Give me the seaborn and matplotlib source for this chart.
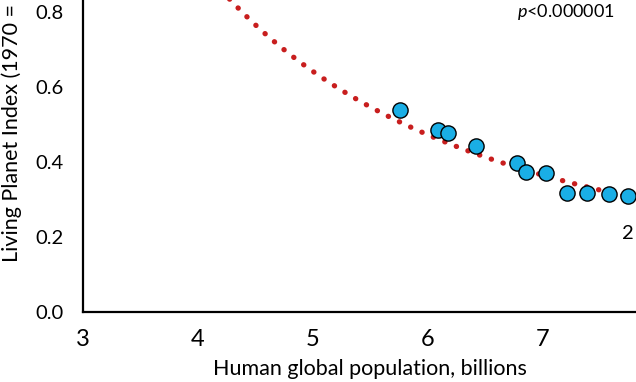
import numpy as np
import pandas as pd
import matplotlib
matplotlib.use("Agg")
import matplotlib.pyplot as plt
import seaborn as sns

# population (billions) vs Living Planet Index
population = [5.76, 6.09, 6.17, 6.42, 6.77, 6.85, 7.03, 7.21, 7.38, 7.57, 7.74]
lpi = [0.539, 0.485, 0.477, 0.443, 0.397, 0.373, 0.371, 0.317, 0.317, 0.315, 0.309]

# power trend y = a * x^b, estimated from the dotted curve
trend_a = 9.55
trend_b = -1.678
trend_start, trend_end = 3.7, 7.76

x_ticks = [3, 4, 5, 6, 7]
y_ticks = [0.0, 0.2, 0.4, 0.6, 0.8, 1.0]

sns.set_theme(style="white")
plt.rcParams['font.family'] = ['Lato', 'DejaVu Sans']
plt.rcParams['mathtext.fontset'] = 'custom'
plt.rcParams['mathtext.it'] = 'Lato:italic'
plt.rcParams['mathtext.rm'] = 'Lato'

df = pd.DataFrame({'pop': population, 'lpi': lpi})
tx = np.linspace(trend_start, trend_end, 200)
trend = pd.DataFrame({'pop': tx, 'lpi': trend_a * tx ** trend_b})

fig = plt.figure(figsize=(6.36, 3.82), dpi=100)
# the chart is cropped: axes run past the top and right edges
ax = fig.add_axes([83 / 636, 70 / 382, 575 / 636, 375 / 382])

sns.lineplot(data=trend, x='pop', y='lpi', ax=ax, color='#C81E1E',
             linestyle=(0, (0.05, 2.3)), linewidth=3.8,
             dash_capstyle='round', zorder=2)
sns.scatterplot(data=df, x='pop', y='lpi', ax=ax, s=120, color='#1AAEE5',
                edgecolor='black', linewidth=1.0, zorder=3)

ax.set_xlim(3, 8)
ax.set_ylim(0, 1.0)
ax.set_xticks(x_ticks)
ax.set_yticks(y_ticks)
ax.set_yticklabels([f"{v:.1f}" for v in y_ticks])
ax.tick_params(axis='both', length=0, colors='black')
ax.tick_params(axis='y', pad=14, labelsize=14.5)
ax.tick_params(axis='x', pad=12, labelsize=17)
for s in ['top', 'right']:
    ax.spines[s].set_visible(False)
for s in ['left', 'bottom']:
    ax.spines[s].set_color('black')
    ax.spines[s].set_linewidth(1.6)

ax.set_xlabel("Human global population, billions", fontsize=15.5, color='black')
ax.xaxis.set_label_coords(287 / 575, -47 / 375)
ax.set_ylabel("Living Planet Index (1970 = 1)", fontsize=15.5, color='black',
              loc='bottom')
ax.yaxis.set_label_coords(-61 / 575, 50 / 375)

ax.text(6.77, 0.80, r"$p$<0.000001", fontsize=13, color='black',
        ha='left', va='center')
ax.text(7.69, 0.21, "2", fontsize=14.5, color='black', ha='left', va='center')

fig.savefig("out.png", dpi=100)
